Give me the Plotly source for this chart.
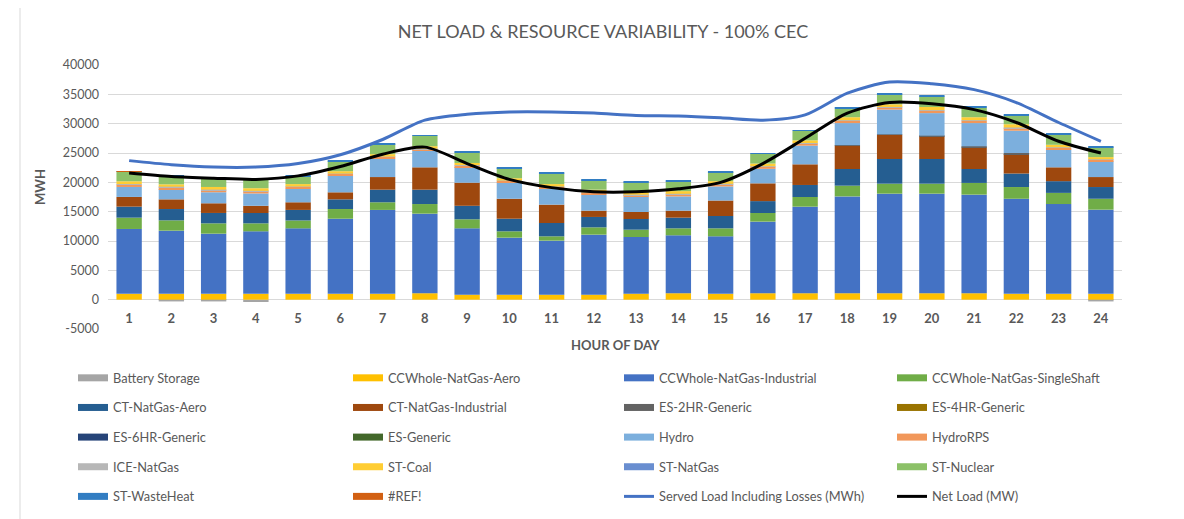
import plotly.graph_objects as go

hours = list(range(1, 25))

battery_storage = [0, -300, -300, -400, 0, 0, 0, 0, 0, 0, 0, 0, 0, 0, 0, 0, 0, 0, 0, 0, 0, 0, 0, -300]
cc_natgas_aero = [1000, 1000, 1000, 1000, 1000, 1000, 1000, 1100, 850, 850, 850, 850, 1020, 1100, 1000, 1100, 1100, 1100, 1100, 1100, 1100, 1000, 1000, 1000]
cc_natgas_industrial = [11050, 10760, 10250, 10650, 11160, 12800, 14300, 13560, 11310, 9720, 9210, 10230, 9660, 9870, 9800, 12200, 14750, 16500, 16970, 16970, 16800, 16200, 15300, 14340]
cc_natgas_singleshaft = [1930, 1760, 1760, 1360, 1340, 1650, 1300, 1640, 1540, 1080, 740, 1250, 1250, 1190, 1360, 1470, 1650, 1830, 1700, 1700, 2000, 2000, 1900, 1860]
ct_natgas_aero = [1880, 1930, 1770, 1760, 1800, 1650, 2150, 2450, 2300, 2150, 2270, 1770, 1820, 1820, 2100, 2030, 2050, 2840, 4210, 4210, 2370, 2300, 2000, 2000]
ct_natgas_industrial = [1650, 1650, 1650, 1230, 1300, 1200, 2150, 3810, 3940, 3400, 3130, 1070, 1190, 1190, 2640, 3030, 3520, 3980, 4100, 3870, 3670, 3300, 2360, 1700]
es_2hr_generic = [0, 0, 0, 0, 0, 0, 0, 0, 0, 0, 0, 0, 0, 0, 0, 0, 0, 100, 100, 100, 200, 200, 0, 0]
es_4hr_generic = [0] * 24
es_6hr_generic = [0] * 24
es_generic = [0] * 24
hydro = [1700, 1760, 1880, 2100, 2300, 2800, 3100, 2800, 2660, 2740, 2700, 2670, 2560, 2430, 2400, 2470, 3180, 3750, 4220, 3850, 3960, 3800, 3010, 2680]
hydro_rps = [400, 320, 360, 360, 320, 320, 320, 320, 280, 300, 320, 360, 320, 360, 360, 360, 360, 400, 360, 420, 400, 440, 330, 290]
ice_natgas = [100, 80, 90, 90, 80, 80, 80, 80, 70, 80, 80, 90, 80, 90, 90, 90, 90, 100, 90, 100, 100, 110, 80, 70]
st_coal = [470, 400, 450, 450, 400, 400, 400, 400, 350, 380, 400, 460, 400, 450, 450, 450, 460, 500, 450, 520, 500, 550, 420, 360]
st_natgas = [0] * 24
st_nuclear = [1590, 1340, 1500, 1600, 1300, 1700, 1700, 1750, 1800, 1700, 1800, 1590, 1700, 1600, 1560, 1630, 1590, 1400, 1700, 1820, 1600, 1460, 1700, 1670]
st_wasteheat = [80, 100, 100, 100, 100, 120, 120, 150, 150, 150, 120, 150, 120, 150, 150, 150, 150, 200, 170, 170, 170, 170, 170, 130]
ref_error = [80, 0, 0, 0, 0, 0, 0, 0, 0, 0, 0, 0, 0, 0, 0, 0, 0, 0, 0, 0, 0, 0, 0, 0]

served_load = [23700, 23000, 22600, 22600, 23200, 24700, 27300, 30600, 31600, 32000, 32000, 31800, 31400, 31300, 31000, 30600, 31500, 35200, 37100, 36800, 35800, 33600, 30200, 27000]
net_load = [21600, 21000, 20700, 20500, 21100, 22700, 24800, 26000, 23200, 20500, 19100, 18400, 18400, 18900, 20000, 23200, 27500, 31800, 33600, 33400, 32400, 30200, 27000, 25000]

y_ticks = list(range(-5000, 40001, 5000))
y_tick_labels = [str(v).replace("\u2212", "-") for v in y_ticks]
hour_labels = [str(h) for h in hours]

series = [
    ("Battery Storage", battery_storage, "#A5A5A5"),
    ("CCWhole-NatGas-Aero", cc_natgas_aero, "#FFC000"),
    ("CCWhole-NatGas-Industrial", cc_natgas_industrial, "#4472C4"),
    ("CCWhole-NatGas-SingleShaft", cc_natgas_singleshaft, "#70AD47"),
    ("CT-NatGas-Aero", ct_natgas_aero, "#255E91"),
    ("CT-NatGas-Industrial", ct_natgas_industrial, "#9E480E"),
    ("ES-2HR-Generic", es_2hr_generic, "#636363"),
    ("ES-4HR-Generic", es_4hr_generic, "#997300"),
    ("ES-6HR-Generic", es_6hr_generic, "#264478"),
    ("ES-Generic", es_generic, "#43682B"),
    ("Hydro", hydro, "#7CAFDD"),
    ("HydroRPS", hydro_rps, "#F1975A"),
    ("ICE-NatGas", ice_natgas, "#B7B7B7"),
    ("ST-Coal", st_coal, "#FFCD33"),
    ("ST-NatGas", st_natgas, "#698ED0"),
    ("ST-Nuclear", st_nuclear, "#8CC168"),
    ("ST-WasteHeat", st_wasteheat, "#327DC2"),
    ("#REF!", ref_error, "#D26012"),
]
lines = [
    ("Served Load Including Losses (MWh)", served_load, "#4472C4"),
    ("Net Load (MW)", net_load, "#000000"),
]

FONT = "Lato, 'Open Sans', sans-serif"
GREY = "#595959"
legend_names = ["legend", "legend2", "legend3", "legend4"]

# figure pixel geometry (page has an 8px body margin)
W, H = 1184, 519
PL, PR, PT, PB = 100, 1114, 57, 321  # plot area in figure px
PW, PH = PR - PL, PB - PT

fig = go.Figure()
for name, vals, color in series:
    fig.add_trace(go.Bar(x=hours, y=vals, name=name, marker=dict(color=color, line=dict(width=0)),
                         width=0.6, showlegend=False, hoverinfo="name+y"))
for name, vals, color in lines:
    fig.add_trace(go.Scatter(x=hours, y=vals, name=name, mode="lines",
                             line=dict(color=color, width=3, shape="spline", smoothing=0.8),
                             showlegend=False))

# legend swatches (Excel style wide bars), 4 columns, row-major order
entries = [(n, c, 7) for n, _, c in series] + [(n, c, 3) for n, _, c in lines]
for i, (name, color, w) in enumerate(entries):
    fig.add_trace(go.Scatter(x=[None], y=[None], mode="lines", name=name,
                             line=dict(color=color, width=w), legend=legend_names[i % 4],
                             legendgroup=f"g{i}", showlegend=True, hoverinfo="skip"))

col_x = [65, 340, 611, 884]
leg_common = dict(orientation="v", xref="container", yref="container", xanchor="left", yanchor="top",
                  y=1 - 355 / H, font=dict(family=FONT, size=12.8, color=GREY),
                  bgcolor="rgba(0,0,0,0)", tracegroupgap=10, itemwidth=30, traceorder="grouped")
layout_legends = {}
for k, ln in enumerate(legend_names):
    layout_legends[ln] = dict(leg_common, x=col_x[k] / W)

fig.update_layout(
    width=W, height=H,
    barmode="relative",
    paper_bgcolor="white", plot_bgcolor="white",
    margin=dict(l=PL, r=W - PR, t=PT, b=H - PB, autoexpand=False),
    title=dict(text="NET LOAD & RESOURCE VARIABILITY - 100% CEC", x=595 / W, xanchor="center",
               y=1 - 24 / H, yanchor="middle", font=dict(family=FONT, size=18, color=GREY)),
    xaxis=dict(range=[0.5, 24.5], tickvals=hours, ticktext=hour_labels,
               anchor="free", position=5000 / 45000, showgrid=False, zeroline=False, showline=False,
               ticks="", ticklabelstandoff=9,
               tickfont=dict(family=FONT, size=13, color=GREY, weight="bold"),
               automargin=False),
    yaxis=dict(range=[-5000, 40000], tickvals=y_ticks, ticktext=y_tick_labels, showgrid=True,
               gridcolor="#D9D9D9", gridwidth=1, zeroline=False, showline=False, ticks="",
               tickfont=dict(family=FONT, size=12.5, color=GREY), ticklabelstandoff=8,
               automargin=False),
    font=dict(family=FONT, color=GREY),
    annotations=[
        dict(text="MWH", xref="paper", yref="paper", x=(32 - PL) / PW, y=(PB - 179) / PH,
             xanchor="center", yanchor="middle", textangle=-90, showarrow=False,
             font=dict(family=FONT, size=13, color=GREY, weight="bold")),
        dict(text="HOUR OF DAY", xref="paper", yref="paper", x=0.5, y=(PB - 337) / PH,
             xanchor="center", yanchor="middle", showarrow=False,
             font=dict(family=FONT, size=13, color=GREY, weight="bold")),
    ],
    **layout_legends,
)

# thin chart-area border on the left
fig.add_shape(type="line", xref="paper", yref="paper", x0=(12 - PL) / PW, x1=(12 - PL) / PW,
              y0=(PB - H) / PH, y1=(PB + 0) / PH + 0.2, line=dict(color="#D9D9D9", width=1))

fig.write_html("out.html")
